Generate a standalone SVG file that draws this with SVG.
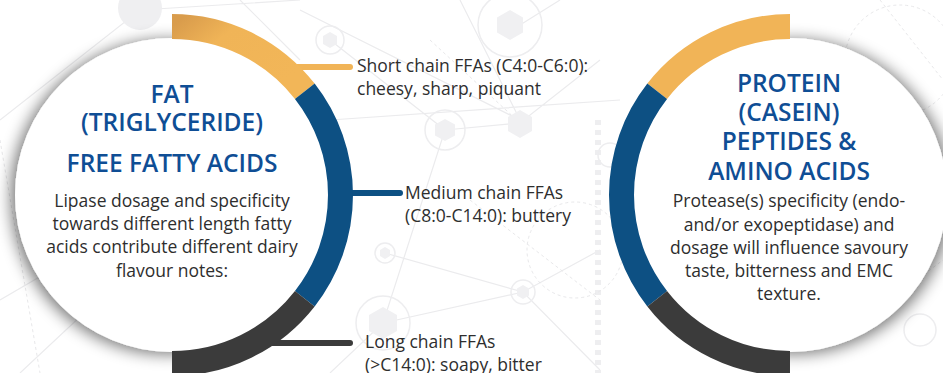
<svg xmlns="http://www.w3.org/2000/svg" width="943" height="373" viewBox="0 0 943 373">
  <defs>
    <filter id="shadow" x="-20%" y="-20%" width="140%" height="140%">
      <feGaussianBlur in="SourceAlpha" stdDeviation="8"/>
      <feOffset dx="-4" dy="2" result="b"/>
      <feComponentTransfer><feFuncA type="linear" slope="0.55"/></feComponentTransfer>
      <feMerge><feMergeNode/><feMergeNode in="SourceGraphic"/></feMerge>
    </filter>
    <filter id="shadowR" x="-20%" y="-20%" width="140%" height="140%">
      <feGaussianBlur in="SourceAlpha" stdDeviation="8"/>
      <feOffset dx="4" dy="2" result="b"/>
      <feComponentTransfer><feFuncA type="linear" slope="0.55"/></feComponentTransfer>
      <feMerge><feMergeNode/><feMergeNode in="SourceGraphic"/></feMerge>
    </filter>
    <linearGradient id="orgL" x1="0" y1="0" x2="1" y2="0.6">
      <stop offset="0" stop-color="#d99c4c"/>
      <stop offset="0.35" stop-color="#f0b457"/>
      <stop offset="1" stop-color="#f2b658"/>
    </linearGradient>
    <style>
      .bgl { stroke:#ebebed; stroke-width:1.2; fill:none; }
      .bgd { stroke:#e8e8ea; stroke-width:1; fill:none; stroke-dasharray:3 3; }
      .hex { fill:#f0f0f2; stroke:none; }
      .hring { fill:none; stroke:#ededef; stroke-width:1.5; }
      .ring { fill:none; stroke-width:25; stroke-linecap:butt; }
      .org { stroke:#f1b457; }
      .blu { stroke:#0d5083; }
      .drk { stroke:#3b3b3b; }
      .con { fill:none; stroke-width:6; stroke-linecap:round; }
      .title { font-family:"Open Sans","Noto Sans",sans-serif; font-weight:600; font-size:24.5px; fill:#0f4e95; text-anchor:middle; }
      .body { font-family:"Open Sans","Noto Sans",sans-serif; font-size:17.5px; fill:#2e2e2e; text-anchor:middle; }
      .lbl { font-family:"Open Sans","Noto Sans",sans-serif; font-size:17.5px; fill:#2e2e2e; }
    </style>
  </defs>

  <rect width="943" height="373" fill="#ffffff"/>

  <g id="background">
    <path class="bgl" d="M0 120 L140 10 L300 0 M0 300 L120 230 M20 373 L130 270 M300 10 L520 120 L460 0 M330 40 L445 130 L383 323 L330 373 M445 130 L520 123 L600 60 M383 323 L523 292 L600 250 M385 253 L523 292 L600 370 M520 25 L560 0 M330 120 L620 100 M240 0 L300 60"/>
    <path class="bgd" d="M0 140 L40 373 M470 200 L600 300 M430 40 L520 123 M880 0 L943 80 M890 300 L943 260"/>
    <path d="M598 120 L598 373" stroke="#eeeef0" stroke-width="6" stroke-dasharray="5 5" fill="none"/>
    <circle class="bgd" cx="575" cy="250" r="48"/>
    <circle class="bgd" cx="900" cy="60" r="55"/>
    <circle cx="140" cy="8" r="22" fill="#efeff1"/>
    <circle class="hring" cx="510" cy="25" r="32"/>
    <polygon class="hex" points="510,10 523,17.5 523,32.5 510,40 497,32.5 497,17.5"/>
    <polygon class="hex" points="520,110 532,117 532,131 520,138 508,131 508,117"/>
    <circle class="hring" cx="445" cy="130" r="20"/>
    <polygon class="hex" points="445,119 455,124.5 455,135.5 445,141 435,135.5 435,124.5"/>
    <circle class="hring" cx="383" cy="323" r="27"/>
    <polygon class="hex" points="383,307 397,315 397,331 383,339 369,331 369,315"/>
    <circle class="hring" cx="385" cy="253" r="10"/>
    <polygon class="hex" points="385,247 390,250 390,256 385,259 380,256 380,250"/>
    <circle class="hring" cx="523" cy="292" r="12"/>
    <polygon class="hex" points="523,285 529,288.5 529,295.5 523,299 517,295.5 517,288.5"/>
    <circle class="hring" cx="330" cy="40" r="14"/>
    <polygon class="hex" points="330,32 337,36 337,44 330,48 323,44 323,36"/>
    <circle class="hring" cx="610" cy="155" r="12"/>
    <circle class="hring" cx="920" cy="330" r="16"/>
  </g>

  <g id="connectors">
    <line class="con org" x1="296" y1="67" x2="350" y2="67"/>
    <line class="con blu" x1="345" y1="193" x2="400" y2="193"/>
    <line class="con drk" x1="272" y1="343" x2="350" y2="343"/>
  </g>

  <g id="fat-node">
    <circle cx="172" cy="195" r="157" fill="#ffffff" filter="url(#shadow)"/>
    <path class="ring" stroke="url(#orgL)" d="M172 26.5 A168.5 168.5 0 0 1 304.8 91.3"/>
    <path class="ring blu" d="M304.8 91.3 A168.5 168.5 0 0 1 304.8 298.7"/>
    <path class="ring drk" d="M304.8 298.7 A168.5 168.5 0 0 1 172 363.5"/>
    <text class="title" x="172" y="103">FAT</text>
    <text class="title" x="172" y="131">(TRIGLYCERIDE)</text>
    <text class="title" x="172" y="172">FREE FATTY ACIDS</text>
    <text class="body" x="172" y="207">Lipase dosage and specificity</text>
    <text class="body" x="172" y="230">towards different length fatty</text>
    <text class="body" x="172" y="253">acids contribute different dairy</text>
    <text class="body" x="172" y="277">flavour notes:</text>
  </g>

  <g id="short-chain">
    <text class="lbl" x="357" y="72">Short chain FFAs (C4:0-C6:0):</text>
    <text class="lbl" x="357" y="95">cheesy, sharp, piquant</text>
  </g>
  <g id="medium-chain">
    <text class="lbl" x="405" y="199">Medium chain FFAs</text>
    <text class="lbl" x="405" y="222">(C8:0-C14:0): buttery</text>
  </g>
  <g id="long-chain">
    <text class="lbl" x="365" y="348">Long chain FFAs</text>
    <text class="lbl" x="365" y="371">(&gt;C14:0): soapy, bitter</text>
  </g>

  <g id="protein-node">
    <circle cx="790" cy="195" r="157" fill="#ffffff" filter="url(#shadowR)"/>
    <path class="ring org" d="M790 26.5 A168.5 168.5 0 0 0 657.2 91.3"/>
    <path class="ring blu" d="M657.2 91.3 A168.5 168.5 0 0 0 657.2 298.7"/>
    <path class="ring drk" d="M657.2 298.7 A168.5 168.5 0 0 0 790 363.5"/>
    <text class="title" x="789" y="92">PROTEIN</text>
    <text class="title" x="789" y="121">(CASEIN)</text>
    <text class="title" x="789" y="150">PEPTIDES &amp;</text>
    <text class="title" x="789" y="180">AMINO ACIDS</text>
    <text class="body" x="789" y="207">Protease(s) specificity (endo-</text>
    <text class="body" x="789" y="231">and/or exopeptidase) and</text>
    <text class="body" x="789" y="254">dosage will influence savoury</text>
    <text class="body" x="789" y="277">taste, bitterness and EMC</text>
    <text class="body" x="789" y="300">texture.</text>
  </g>
</svg>
